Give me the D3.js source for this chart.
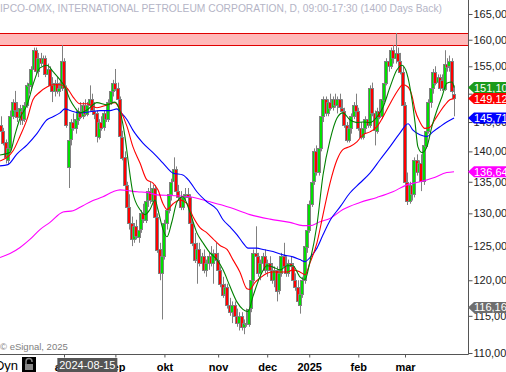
<!DOCTYPE html>
<html>
<head>
<meta charset="utf-8">
<title>IPCO-OMX</title>
<script src="https://cdnjs.cloudflare.com/ajax/libs/d3/7.8.5/d3.min.js"></script>
<style>
  body { margin: 0; background: #fff; overflow: hidden; }
  svg { display: block; font-family: "Liberation Sans", Arial, sans-serif; }
</style>
</head>
<body>
<script>
// trading day index: 0 = 2024-08-01
var firstDay = -27;
// [open, high, low, close] per trading day, starting at firstDay
var candles = [
  [144.5,146,143,143.5],[143.5,144,141,141.5],[141.5,142,138,139],[138.5,141,137.8,140.5],[140.5,147,140,146],
  [146,149,145.5,148.5],[148.5,150.5,146.5,147],[147,148.5,145,146],[146,148,144.5,147.5],
  [147,148,144.5,145.5],[145.5,148.5,145,148],[148,152,147.5,151.5],[151.5,153,150,152],
  [151.5,155,150.5,154.5],[154.5,158.5,154,158],[158,158.5,153.5,154],[154,157.5,153,156.5],
  [156.5,157.5,155,155.5],[155.5,157,154,156.5],[156.5,157,153,153.5],[153.5,155.5,152.5,154.5],[154.5,155,151,151.5],
  [151.5,153,148.5,150.5],[150.5,152.5,149.5,152],[152,153,150,150.5],[150.5,152,149.5,151],
  [151,159,150.5,156],[156,156.5,150.5,151],[151,151.5,144,144.5],[137.5,142.5,134,142],
  [142,145.5,141,145],[145,146.5,143.5,144],[144,146,143,145.5],[145.5,147.5,144.5,147],
  [147,148.5,145.5,146],[146,148.5,145.5,148],[148,149,146,146.5],[146.5,148.5,146,148],
  [148,151.5,147,149],[149,150,146.5,147],[147,148.5,145.5,146.5],[146.5,147,141.5,142.5],[142.5,145.5,142,145],
  [145,146,143.5,144],[144,147,143.5,146.5],[146.5,148,145,145.5],[145.5,149,145,148.5],
  [148.5,151,148,150.5],[150.5,152.5,149.5,152],[152,154.5,150.5,151],[151,152,148.5,149],
  [149,149.5,142,142.5],[142.5,143.5,138.5,139],[139,140,133.5,134.5],[134.5,135,130.5,131],[131,133,127.5,128.5],
  [128.5,129.5,125,126],[126,128.5,125.5,128],[128,129,126,126.5],[126.5,128,125.5,127.5],
  [127.5,130.5,127,130],[130,131.5,128.5,129],[129,132.5,128.5,132],[132,134,131,133.5],
  [133.5,135,131.5,132],[132,134.5,131,134],[134,134.5,129,129.5],[129.5,130,124,124.5],
  [124.5,125.5,120,121],[121,124,114.5,123.5],[123.5,129,123,128.5],[128.5,131,127.5,130.5],[130.5,133.5,130,133],
  [133,135.5,132,135],[135,139,134.5,137],[137,137.5,133,133.5],[133.5,134.5,132,132.5],
  [132.5,133.5,130.5,131],[131,133,130.5,132.5],[132.5,134,132,133],[133,134,132,132.5],
  [132.5,133,128,128.5],[128.5,129,125,125.5],[125.5,127,122.5,123],[123,125.5,119.5,124.5],[124.5,125.5,122,122.5],
  [122.5,124,121.5,123.5],[123.5,124.5,121,121.5],[121.5,123,120.5,122.5],[122.5,124,121.5,123.5],
  [123.5,125,122,122.5],[122.5,124.5,119.5,124],[124,125.5,122.5,123],[123,124,121,121.5],
  [121.5,122,119,119.5],[119.5,120.5,117.5,118],[118,119.5,116.5,119],[119,119.5,116,116.5],[116.5,117.5,115,115.5],
  [115.5,117,114,116.5],[116.5,117,114.5,115],[115,116,113.5,114],[114,115.5,113,115],
  [115,115.5,113,113.5],[113.5,114.5,112.5,114],[114,116,113.5,113.8],[114,116.5,113.5,116],
  [116,120.5,115.5,120],[120,124.5,119.5,124],[124,128,122.5,123.5],[123.5,124,120.5,121],
  [121,123,120,122.5],[122.5,124,121.5,123.5],[123.5,124.5,121,121.5],[121.5,123,120.5,122.5],[122.5,123.5,121,121.5],
  [121.5,122.5,119.5,120],[120,122,119,121.5],[121.5,122,117,118.5],[118.5,121.5,118,121],
  [121,124,120.5,123.5],[123.5,125.5,121.5,122],[122,123.5,120.5,121],[121,123,120.5,122.5],
  [122.5,123.5,121.5,122],[122,122.5,119.5,120],[120,121,118.5,119],[119,120,116.5,117],[116.5,118.5,115.3,118],
  [118,120.5,117.5,120],[120,125.5,119.5,125],[125,128,124,127.5],[127.5,132,127,131.5],
  [131.5,135.5,131,135],[135,140.5,134.5,140],[140,141,136,136.5],[136.5,141,136,140.5],
  [140.5,146.5,140,146],[146,149.5,145,149],[149,149.5,146,146.5],[146.5,149,146,148.5],
  [148.5,150,147,147.5],[147.5,149.5,147,149],[149,150,147.5,148],[148,149.5,146.5,149],[149,150,147,147.5],
  [147.5,149,146.5,147],[147,147.5,144,144.5],[144.5,145,141.5,142],[142,144.5,141.5,144],
  [144,146.5,143,146],[146,148.5,145.5,148],[148,150,146.5,147],[147,147.5,143.5,144],
  [144,145,142,142.5],[142.5,144.5,142,144],[144,146,143,145.5],[145.5,146.5,144,144.5],
  [144.5,151.5,144,151],[151,152,146,146.5],[146.5,147,141,143.5],[143.5,147.5,143,147],[147,149,145.5,146],
  [146,149.5,145.5,149],[149,152.5,148.5,152],[152,156.5,151.5,156],[156,157.5,154,155],
  [155,158.5,154.5,158],[158,159,155.5,156.5],[156.5,161.3,155.5,157.5],[157.5,158.5,155,156],
  [156,157.5,153.5,154],[154,155,147.5,148],[148,148.5,134,135],[135,136.5,131.3,132],[132,135,131.5,134.5],
  [134.5,135,132,133],[133,139,132.5,138.5],[138.5,139.5,136,136.5],[136.5,138.5,135.5,138],
  [138,139.5,133.5,135],[135,141.5,134.5,141],[141,144,140.5,143.5],[143.5,149,143,148.5],
  [148.5,151.5,147.5,151],[151,154.5,150,154],[154,155,151.5,152],[152,153.5,151,153],[153,153.5,150.5,151],
  [152.5,153.5,150.5,151],[151,158,150.5,155.5],[155.5,156.5,154,155],[155,157,154,156],
  [156,156.5,150,150.5],[150,151.5,146,149.2]
];

// moving averages, [day index, value]
var maGreen = [[-27.4,139.4],[-23.1,139.8],[-21,142.8],[-18.8,145.7],[-15.8,148],[-13.3,151.6],[-10.3,154.7],[-7.3,155.2],
  [-4.7,154],[-1.7,152.5],[0.4,151.2],[2.6,148.9],[4.7,147.5],[6.8,146.6],[9.8,147.1],[14.1,148.4],[18.4,148],
  [21.8,148.5],[24,146.8],[26.1,142.5],[27.4,138.6],[29.5,133.2],[32.5,130.6],[34.7,129.8],[36.8,130.6],[39,132.1],
  [40.2,130.6],[42.4,127.5],[44.1,126.4],[46.2,128.7],[48.4,131.8],[50.9,132.6],[53.9,130.2],[56.9,127],[59.5,125.5],
  [62.5,124],[65.5,123],[68.1,121.5],[71.1,119.1],[74.1,116.9],[76.6,115.9],[78.8,115.6],[80.9,117.7],[83.9,120.5],
  [86.9,122.1],[89.5,121.9],[92.5,121.5],[95.5,122.1],[98,122.1],[101,120.5],[103.2,120.1],[105.3,122.7],[108.3,128.2],
  [110.9,136.1],[113.9,141.9],[116.9,145.7],[119.4,146.6],[122.4,145.4],[125.4,144.9],[128,145],[131,144.9],[134,145.9],
  [136.6,147.6],[139.6,151.2],[142.5,154.3],[144.7,155.2],[146.8,153.7],[149,148.9],[150.3,144.9],[151.5,140.8],
  [153.3,139.8],[155.4,140.8],[157.5,144.2],[159.7,147.1],[161.8,149.4],[163.9,151.9],[166.1,152.1],[167,151.1]];
var maRed = [[-27.4,138.4],[-21.8,140.1],[-18.8,142.6],[-15.8,145.5],[-13.3,148.9],[-10.3,150.3],[-7.3,151.2],[-4.7,151.6],
  [-1.7,151.6],[1.3,151],[3.9,149.4],[6.8,148.2],[9.8,148.2],[14.1,147.5],[18.4,148],[21.8,148.4],[24,147.1],[27,144.2],
  [29.5,140.8],[32.5,138.1],[35.5,135.3],[38.1,134.8],[40.2,133.7],[42.4,131.5],[44.1,130.6],[46.7,131.5],[49.7,132.1],
  [52.7,131.5],[55.2,129.5],[58.2,127.8],[61.2,127],[63.8,126.1],[66.8,125.1],[69.8,124.5],[72.3,123],[75.3,121.2],
  [78.3,118.8],[79.6,118.7],[81.8,119.7],[83.9,120.3],[86.9,121],[89.5,121.2],[92.5,121.2],[95.5,121.2],[98,121.5],
  [101,121.2],[103.2,120.8],[105.3,122.5],[108.3,125.5],[110.9,129.8],[113.9,134.8],[116.9,138.6],[119.4,140.3],
  [122.4,140.8],[125.4,141.6],[128,142.8],[131,143.3],[134,144.2],[136.6,145.9],[139.6,148.2],[142.5,150.3],[145.1,151.6],
  [147.3,151.2],[149,149.6],[150.3,147.1],[152.4,145],[154.5,143.9],[156.7,144.1],[158.8,145.4],[161,146.8],[163.1,148],
  [165.2,148.9],[167,149.12]];
var maBlue = [[-27.4,137.6],[-24,137.8],[-20.1,139.6],[-15.8,141.1],[-11.6,143],[-7.3,145.4],[-4.7,145.9],[-1.7,146.6],
  [0.4,147.3],[2.6,147],[6.8,146.6],[11.1,146.8],[15.4,147],[19.7,147],[22.7,147.3],[24,146.8],[27,145.4],[29.5,143.6],
  [33.8,141.4],[38.1,139.8],[41.1,138.6],[44.1,137.3],[46.7,136.4],[50.9,136.1],[53.9,135],[56.9,133.4],[61.2,131.8],
  [65.5,130.6],[68.1,129],[71.1,127.9],[74.1,126.7],[76.6,125.5],[78.8,124.7],[82.6,124.7],[85.2,124.5],[89.5,124.2],
  [93.8,123.7],[98,123.4],[101,123],[103.2,122.7],[105.3,123.3],[108.3,124.7],[110.9,126.7],[113.9,128.9],[118.2,131],
  [122.4,133.2],[126.7,134.8],[131,136.4],[135.3,138.6],[139.6,140.8],[143.8,143.1],[147.3,144.7],[149.4,143.6],
  [152.4,142.8],[155.4,142.5],[157.9,143.3],[161,144.2],[163.9,145],[167,145.71]];
var maMagenta = [[-27.4,123.3],[-23.1,123.9],[-18.8,124.8],[-14.6,126],[-10.3,127.5],[-6,128.6],[-0.4,130.2],[3.9,130.4],
  [8.1,131.2],[12.4,132],[16.7,132.6],[21,133.4],[24,133.7],[27,133.6],[31.3,133.4],[35.5,133.3],[39.8,132.9],[45.4,132.8],
  [53.9,132.6],[62.5,131.8],[71.1,130.9],[79.6,129.8],[88.2,129.1],[96.7,128.6],[102.3,128.1],[105.3,128.1],[109.6,128.7],
  [113.9,129.2],[119.4,130.6],[126.7,131.7],[134,132.5],[140.8,133.4],[146.8,134.5],[152.4,135],[157.9,135.6],
  [163.9,136.5],[167,136.64]];

var bandLow = 158.94, bandHigh = 161.23;
var yTicks = [110,115,120,125,130,135,140,145,150,155,160,165];
var monthLabels = ["aug","sep","okt","nov","dec","2025","feb","mar"];
var monthStarts = [0,22,43,66,87,105,126,146];
var tagValues = [136.64,116.16,145.71,151.10,149.12];
var tagColors = ["#ff00ff","#6e6e6e","#0000ff","#1b9a1b","#ff0000"];
var cursorDay = 10, cursorDate = "2024-08-15";
var title = "IPCO-OMX, INTERNATIONAL PETROLEUM CORPORATION, D, 09:00-17:30 (1400 Days Back)";

var W = 506, H = 372, right = 468, bottom = 354;

var svg = d3.select("body").append("svg").attr("width", W).attr("height", H);

var x = d3.scaleLinear().domain([monthStarts[0], monthStarts[7]]).range([64, 405]);
var y = d3.scaleLog().domain([110, 165]).range([353, 14]);

svg.append("clipPath").attr("id", "plot")
  .append("rect").attr("x", 0).attr("y", 0).attr("width", right).attr("height", bottom);

var plot = svg.append("g").attr("clip-path", "url(#plot)");

// resistance band
plot.append("rect")
  .attr("x", 0).attr("width", right)
  .attr("y", y(bandHigh)).attr("height", y(bandLow) - y(bandHigh))
  .attr("fill", "#ffb9b9");
plot.selectAll("line.band").data([bandHigh, bandLow]).join("line")
  .attr("x1", 0).attr("x2", right)
  .attr("y1", function(d){ return Math.round(y(d)) + 0.5; })
  .attr("y2", function(d){ return Math.round(y(d)) + 0.5; })
  .attr("stroke", "#e00000");

var rows = candles.map(function(c, k){ return {i: firstDay + k, o: c[0], h: c[1], l: c[2], c: c[3]}; });

var cg = plot.append("g");
cg.selectAll("line").data(rows).join("line")
  .attr("x1", function(d){ return Math.round(x(d.i)) + 0.5; })
  .attr("x2", function(d){ return Math.round(x(d.i)) + 0.5; })
  .attr("y1", function(d){ return y(d.h); })
  .attr("y2", function(d){ return y(d.l); })
  .attr("stroke", "#808080");
cg.selectAll("rect").data(rows).join("rect")
  .attr("x", function(d){ return Math.round(x(d.i)) - 1.5; })
  .attr("width", 3)
  .attr("y", function(d){ return Math.round(y(Math.max(d.o, d.c))) + 0.5; })
  .attr("height", function(d){ return Math.max(1, Math.round(y(Math.min(d.o, d.c)) - y(Math.max(d.o, d.c)))); })
  .attr("fill", function(d){ return d.c >= d.o ? "#00e000" : "#ff0000"; })
  .attr("stroke", "#808080");

var line = d3.line()
  .x(function(d){ return x(d[0]); })
  .y(function(d){ return y(d[1]); })
  .curve(d3.curveMonotoneX);

[[maMagenta, "#ff00ff"], [maBlue, "#0000ff"], [maRed, "#ff0000"], [maGreen, "#008000"]].forEach(function(m){
  plot.append("path").attr("d", line(m[0]))
    .attr("fill", "none").attr("stroke", m[1]).attr("stroke-width", 1.1);
});

// frame
svg.append("line").attr("x1", right + 0.5).attr("x2", right + 0.5).attr("y1", 0).attr("y2", bottom + 0.5)
  .attr("stroke", "#555");
svg.append("line").attr("x1", 0).attr("x2", right + 0.5).attr("y1", bottom + 0.5).attr("y2", bottom + 0.5)
  .attr("stroke", "#555");

// price axis
var yAxis = svg.append("g").attr("transform", "translate(" + (right + 0.5) + ",0)")
  .call(d3.axisRight(y).tickValues(yTicks).tickSize(4).tickPadding(1)
    .tickFormat(function(d){ return d3.format(".2f")(d).replace(".", ","); }));
yAxis.select(".domain").remove();
yAxis.selectAll("line").attr("stroke", "#555");
yAxis.selectAll("text").attr("font-size", 11).attr("fill", "#222").attr("font-family", "Liberation Sans, Arial");

// time axis
var xAxis = svg.append("g").attr("transform", "translate(0," + (bottom + 0.5) + ")")
  .call(d3.axisBottom(x).tickValues(monthStarts).tickSize(3).tickPadding(6)
    .tickFormat(function(d, k){ return monthLabels[k]; }));
xAxis.select(".domain").remove();
xAxis.selectAll("line").attr("stroke", "#555");
xAxis.selectAll("text").attr("font-size", 11).attr("font-weight", "bold").attr("fill", "#000")
  .attr("font-family", "Liberation Sans, Arial");

// last value tags
var tags = svg.append("g");
tagValues.forEach(function(v, k){
  var ty = y(v);
  tags.append("path")
    .attr("d", "M" + right + "," + ty + "L" + (right + 6) + "," + (ty - 5.5) + "H" + W + "V" + (ty + 5.5) + "H" + (right + 6) + "Z")
    .attr("fill", tagColors[k]);
  tags.append("text").attr("x", right + 6).attr("y", ty + 4)
    .attr("font-size", 11).attr("fill", "#fff").text(d3.format(".2f")(v).replace(".", ","));
});

// title
svg.append("text").attr("x", 0).attr("y", 12).attr("font-size", 10.4)
  .attr("textLength", 442).attr("lengthAdjust", "spacingAndGlyphs")
  .attr("fill", "#b4b4c6").text(title);

// credits
svg.append("text").attr("x", 0).attr("y", 350).attr("font-size", 9.5).attr("fill", "#808080").text("\u00a9 eSignal, 2025");

// cursor date box
var cx = x(cursorDay);
svg.append("rect").attr("x", cx - 30).attr("y", 358).attr("width", 60).attr("height", 14).attr("fill", "#555");
svg.append("text").attr("x", cx).attr("y", 369).attr("text-anchor", "middle")
  .attr("font-size", 11).attr("fill", "#fff").text(cursorDate);

// bottom-left controls
svg.append("text").attr("x", 18).attr("y", 370).attr("text-anchor", "end")
  .attr("font-size", 13).attr("fill", "#000").text("Dyn");
svg.append("rect").attr("x", 22).attr("y", 357).attr("width", 14).attr("height", 15).attr("fill", "#000");
svg.append("path").attr("d", "M26,364 V361.5 A3,3 0 0 1 32,361.5 V362")
  .attr("fill", "none").attr("stroke", "#888").attr("stroke-width", 1.5);
svg.append("rect").attr("x", 25).attr("y", 364).attr("width", 8).attr("height", 6).attr("fill", "#888");
</script>
</body>
</html>
